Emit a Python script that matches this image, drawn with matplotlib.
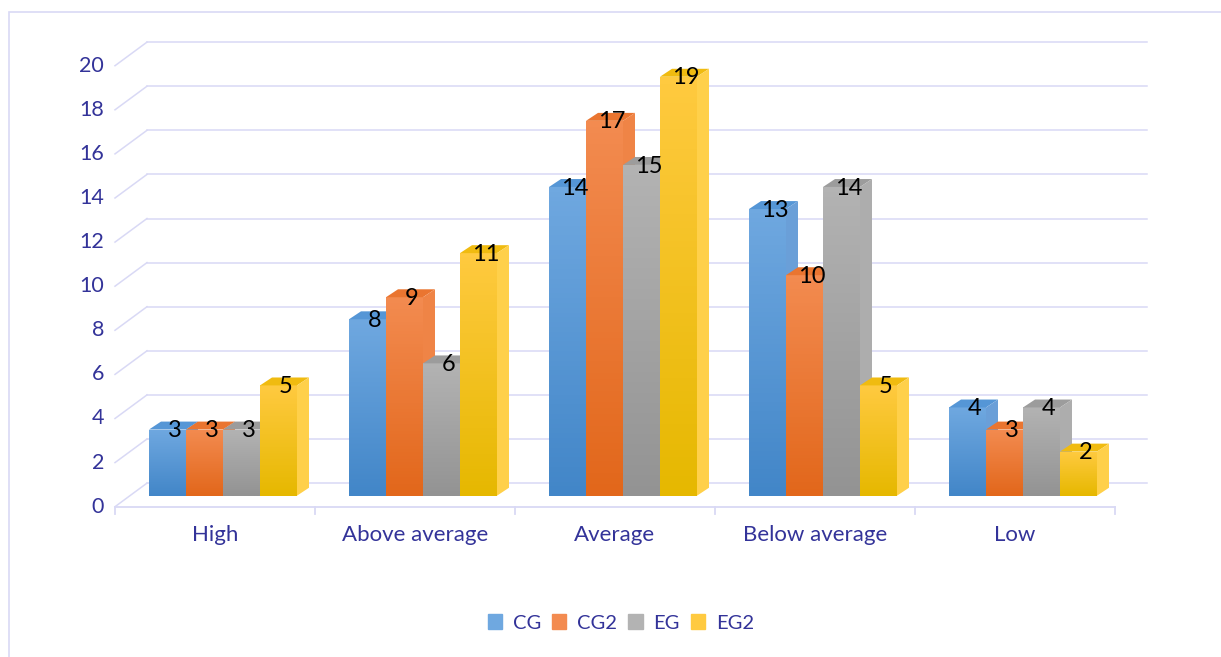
import numpy as np
import matplotlib.pyplot as plt
from matplotlib.colors import to_rgb
from matplotlib.patches import Polygon, Rectangle, Patch

plt.rcParams['font.family'] = ['Lato', 'DejaVu Sans']

# data
categories = ['High', 'Above average', 'Average', 'Below average', 'Low']
series = ['CG', 'CG2', 'EG', 'EG2']
cg = [3, 8, 14, 13, 4]
cg2 = [3, 9, 17, 10, 3]
eg = [3, 6, 15, 14, 4]
eg2 = [5, 11, 19, 5, 2]
yticks = list(range(0, 21, 2))

# colours: front top, front bottom, top face, side face
colors = {
    'CG': ('#6fa8e0', '#4286c8', '#5596d6', '#6a9fd8'),
    'CG2': ('#f38b50', '#e2671b', '#ea7530', '#ef8446'),
    'EG': ('#b3b3b3', '#939393', '#9c9c9c', '#adadad'),
    'EG2': ('#ffca40', '#e6b800', '#f0bb10', '#ffd04a'),
}
grid_c = '#d9d9f5'
text_c = '#333399'

# 3d-ish geometry (data units: 1 category = 200px, 1 value unit ~ 22px)
wall_dx, wall_dy = 0.16, 1.07
bar_dx, bar_dy = 0.04, 0.5
depth_dx, depth_dy = 0.06, 0.36
bar_w = 0.185

fig = plt.figure(figsize=(12.21, 6.57), dpi=100)
ax = fig.add_axes([115 / 1221, 1 - 506.7 / 657, 1000 / 1221, 441 / 657])
ax.axis('off')

# outer frame
fig.add_artist(Rectangle((9 / 1221, -0.1), 1.2, 1 - 12 / 657 + 0.1, transform=fig.transFigure,
                         fill=False, ec=grid_c, lw=1.2))

# walls / grid
for v in yticks:
    ax.plot([-0.5, -0.5 + wall_dx], [v, v + wall_dy], color=grid_c, lw=1.1, clip_on=False, zorder=1)
    ax.plot([-0.5 + wall_dx, 4.5 + wall_dx], [v + wall_dy, v + wall_dy], color=grid_c, lw=1.1,
            clip_on=False, zorder=1)
    ax.text(-0.555, v, str(v), ha='right', va='center', fontsize=15.5, color=text_c)
ax.plot([-0.5, 4.5], [0, 0], color=grid_c, lw=1.3, clip_on=False, zorder=1)
for t in np.arange(-0.5, 4.6, 1):
    ax.plot([t, t], [0, -0.35], color=grid_c, lw=1.3, clip_on=False, zorder=1)
for i, c in enumerate(categories):
    ax.text(i, -1.3, c, ha='center', va='center', fontsize=16, color=text_c)

# bars
x = np.arange(len(categories))
grad = np.linspace(0, 1, 64).reshape(-1, 1)
z = 2
for i in range(len(categories)):
    for k, (name, vals) in enumerate(zip(series, [cg, cg2, eg, eg2])):
        v = vals[i]
        ftop, fbot, ctop, cside = colors[name]
        left = x[i] + bar_dx - 2 * bar_w + k * bar_w
        right = left + bar_w
        b0, b1 = bar_dy, bar_dy + v
        bars = ax.bar(left, v, width=bar_w, bottom=b0, align='edge', color=fbot, lw=0, zorder=z)
        # vertical gradient on the front face
        c1, c2 = np.array(to_rgb(ftop)), np.array(to_rgb(fbot))
        img = c1 + (c2 - c1) * grad[:, :, None]
        im = ax.imshow(img, extent=[left, right, b0, b1], aspect='auto', origin='upper', zorder=z)
        im.set_clip_path(bars[0])
        top = Polygon([[left, b1], [right, b1], [right + depth_dx, b1 + depth_dy],
                       [left + depth_dx, b1 + depth_dy]], closed=True, fc=ctop, lw=0, zorder=z)
        side = Polygon([[right, b0], [right + depth_dx, b0 + depth_dy], [right + depth_dx, b1 + depth_dy],
                        [right, b1]], closed=True, fc=cside, lw=0, zorder=z)
        ax.add_patch(top)
        ax.add_patch(side)
        z += 1
    for k, vals in enumerate([cg, cg2, eg, eg2]):
        left = x[i] + bar_dx - 2 * bar_w + k * bar_w
        ax.text(left + bar_w / 2 + 0.035, bar_dy + vals[i] - 0.05, str(vals[i]), ha='center', va='center',
                fontsize=17, color='black', zorder=100)

ax.set_xlim(-0.5, 4.5)
ax.set_ylim(0, 20)

handles = [Patch(color=colors[s][0]) for s in series]
fig.legend(handles, series, loc='center', bbox_to_anchor=(621 / 1221, 1 - 623 / 657), ncol=4,
           frameon=False, fontsize=14.5, labelcolor=text_c, handlelength=0.7, handleheight=0.75,
           handletextpad=0.55, columnspacing=0.55)

fig.savefig('out.png', dpi=100)
